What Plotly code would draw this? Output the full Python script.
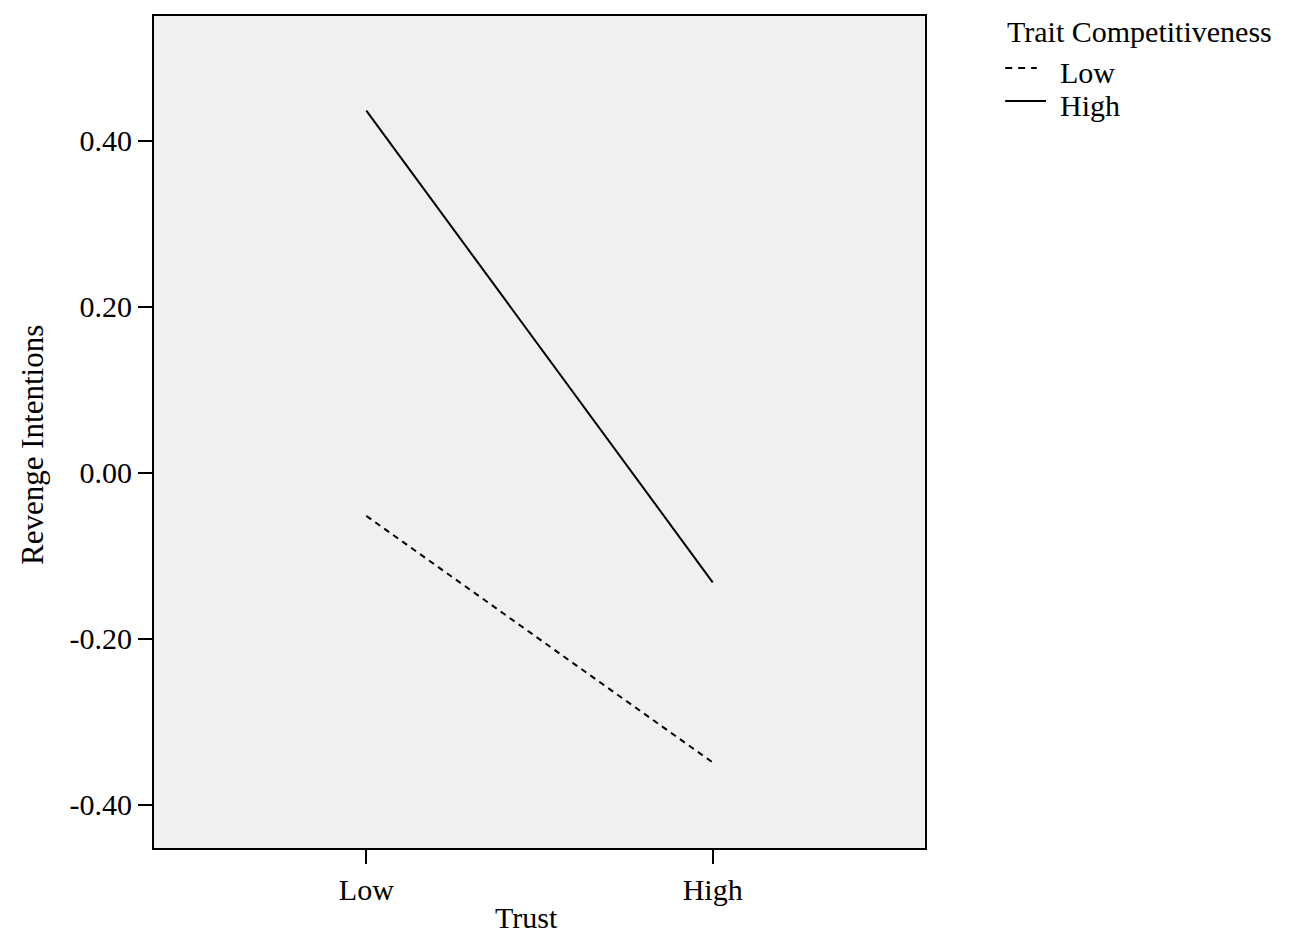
import plotly.graph_objects as go

trust_levels = ["Low", "High"]
low_comp = [-0.052, -0.349]
high_comp = [0.436, -0.132]
series_names = ["Low", "High"]
legend_title = "Trait Competitiveness"
x_title = "Trust"
y_title = "Revenge Intentions"
y_ticks = [-0.40, -0.20, 0.00, 0.20, 0.40]
y_tick_labels = ["-0.40", "-0.20", "0.00", "0.20", "0.40"]

FONT = "Liberation Serif, Times New Roman, serif"

fig = go.Figure()
fig.add_trace(go.Scatter(x=trust_levels, y=low_comp, mode="lines", name=series_names[0],
                         line=dict(color="black", width=2, dash="6px,5px"), showlegend=False))
fig.add_trace(go.Scatter(x=trust_levels, y=high_comp, mode="lines", name=series_names[1],
                         line=dict(color="black", width=2), showlegend=False))

# axis titles
fig.add_annotation(x=0.4825, y=-0.0835, xref="paper", yref="paper", text=x_title,
                   showarrow=False, xanchor="center", yanchor="middle", font=dict(size=30))
fig.add_annotation(x=-0.157, y=0.4844, xref="paper", yref="paper", text=y_title, textangle=-90,
                   showarrow=False, xanchor="center", yanchor="middle", font=dict(size=31))

# manual legend (layout decoration, in paper coordinates)
leg_x_sym0 = 1.104
leg_x_text = 1.1725
fig.add_annotation(x=leg_x_sym0, y=0.9815, xref="paper", yref="paper", text=legend_title,
                   showarrow=False, xanchor="left", yanchor="middle", font=dict(size=30))
fig.add_annotation(x=leg_x_text, y=0.9326, xref="paper", yref="paper", text=series_names[0],
                   showarrow=False, xanchor="left", yanchor="middle", font=dict(size=30))
fig.add_annotation(x=leg_x_text, y=0.8930, xref="paper", yref="paper", text=series_names[1],
                   showarrow=False, xanchor="left", yanchor="middle", font=dict(size=30))
fig.add_shape(type="line", xref="paper", yref="paper", x0=leg_x_sym0, x1=1.145, y0=0.9375, y1=0.9375,
              line=dict(color="black", width=2, dash="7px,6px"))
fig.add_shape(type="line", xref="paper", yref="paper", x0=leg_x_sym0, x1=1.157, y0=0.8978, y1=0.8978,
              line=dict(color="black", width=2))

fig.update_layout(
    width=1290, height=932,
    margin=dict(l=146, r=373, t=8, b=92, autoexpand=False),
    paper_bgcolor="white", plot_bgcolor="#f0f0f0",
    font=dict(family=FONT, size=30, color="black"),
    showlegend=False,
)
fig.update_xaxes(type="category", range=[-0.613, 1.613], showline=True, linecolor="black",
                 linewidth=2, mirror=True, ticks="outside", ticklen=14, tickwidth=2,
                 tickcolor="black", showgrid=False, zeroline=False, automargin=False,
                 tickfont=dict(size=30))
fig.update_yaxes(range=[-0.452, 0.55], tickvals=y_ticks, ticktext=y_tick_labels,
                 showline=True, linecolor="black", linewidth=2, mirror=True,
                 ticks="outside", ticklen=14, tickwidth=2, tickcolor="black",
                 showgrid=False, zeroline=False, automargin=False,
                 tickfont=dict(size=30))

fig.write_html("out.html")
